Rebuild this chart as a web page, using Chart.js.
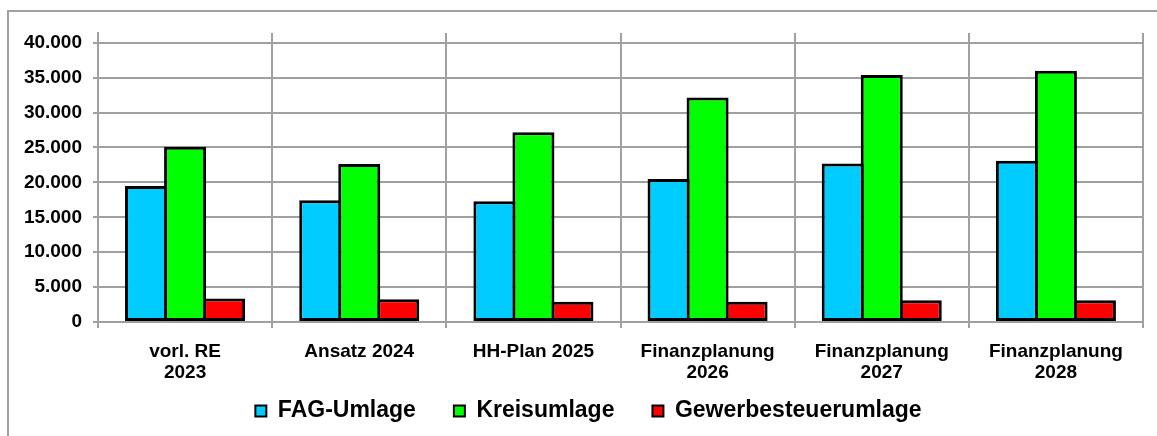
<!DOCTYPE html>
<html>
<head>
<meta charset="utf-8">
<script src="https://cdn.jsdelivr.net/npm/chart.js@4.4.1/dist/chart.umd.min.js"></script>
<style>
  html, body { margin: 0; padding: 0; background: #fff; overflow: hidden; }
  #frame { position: absolute; left: 7px; top: 10px; width: 2000px; height: 1000px;
           border-left: 2px solid #a0a0a0; border-top: 2px solid #a0a0a0; }
  #wrap { position: absolute; left: 0; top: 0; width: 1157px; height: 436px; }
</style>
</head>
<body>
<div id="frame"></div>
<div id="wrap"><canvas id="chart"></canvas></div>
<script>
// Kategorien und Werte
const categories = [['vorl. RE', '2023'], 'Ansatz 2024', 'HH-Plan 2025',
    ['Finanzplanung', '2026'], ['Finanzplanung', '2027'], ['Finanzplanung', '2028']];
const seriesNames = ['FAG-Umlage', 'Kreisumlage', 'Gewerbesteuerumlage'];
const fagUmlage = [19500, 17450, 17300, 20500, 22700, 23100];
const kreisumlage = [25100, 22650, 27200, 32150, 35400, 36000];
const gewerbesteuerumlage = [3350, 3250, 2900, 2900, 3100, 3100];
const yTicks = [0, 5000, 10000, 15000, 20000, 25000, 30000, 35000, 40000];
const seriesColors = ['#00ccff', '#00ff00', '#ff0000'];

// 40000 -> "40.000"
function formatDe(n) {
    return String(n).replace(/\B(?=(\d{3})+(?!\d))/g, '.');
}

const gridColor = '#a0a0a0';
const font = { family: "'Liberation Sans', Arial, sans-serif", weight: 'bold' };

// labels spill outside their scale box here, so skip the clipping
function noLabelClip(scale) {
    scale._computeLabelArea = function () { return undefined; };
}

function makeDataset(label, data, color) {
    return {
        label: label,
        data: data,
        backgroundColor: color,
        borderColor: '#000',
        borderWidth: 3,
        borderSkipped: false,
        categoryPercentage: 0.672,
        barPercentage: 1.077
    };
}

const ctx = document.getElementById('chart').getContext('2d');
new Chart(ctx, {
    type: 'bar',
    data: {
        labels: categories,
        datasets: [
            makeDataset(seriesNames[0], fagUmlage, seriesColors[0]),
            makeDataset(seriesNames[1], kreisumlage, seriesColors[1]),
            makeDataset(seriesNames[2], gewerbesteuerumlage, seriesColors[2])
        ]
    },
    options: {
        responsive: true,
        maintainAspectRatio: false,
        animation: false,
        layout: { padding: { left: 34, right: 14, top: 33, bottom: 3.5 } },
        scales: {
            x: {
                grid: { color: gridColor, lineWidth: 2, offset: true, tickLength: 6 },
                border: { color: gridColor, width: 2 },
                ticks: {
                    color: '#000',
                    font: Object.assign({ size: 19, lineHeight: 1.1 }, font),
                    padding: 13,
                    maxRotation: 0,
                    autoSkip: false
                },
                afterFit: function (scale) {
                    scale.height = 39.5;
                    noLabelClip(scale);
                }
            },
            y: {
                min: 0,
                max: 41400,
                afterBuildTicks: function (scale) {
                    scale.ticks = yTicks.map(v => ({ value: v }));
                },
                grid: { color: gridColor, lineWidth: 2, tickLength: 5 },
                border: { color: gridColor, width: 2 },
                ticks: {
                    color: '#000',
                    font: Object.assign({ size: 19 }, font),
                    padding: 11,
                    callback: function (v) { return formatDe(v); }
                },
                afterFit: function (scale) {
                    scale.width = 64;
                    noLabelClip(scale);
                }
            }
        },
        plugins: {
            tooltip: { enabled: false },
            legend: {
                position: 'bottom',
                labels: {
                    color: '#000',
                    font: Object.assign({ size: 23 }, font),
                    boxWidth: 11,
                    boxHeight: 11,
                    padding: 38,
                    generateLabels: function (chart) {
                        return Chart.defaults.plugins.legend.labels.generateLabels(chart)
                            .map(l => Object.assign(l, { lineWidth: 2 }));
                    }
                }
            }
        }
    }
});
</script>
</body>
</html>
